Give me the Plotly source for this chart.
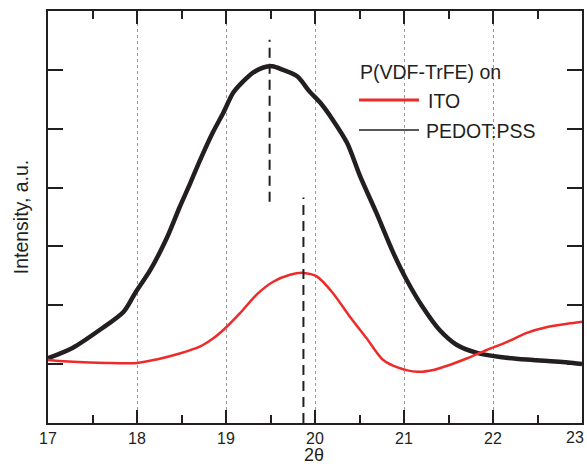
import plotly.graph_objects as go

# PEDOT:PSS substrate (black, noisy band in the original)
pedot_x = [17.0, 17.28, 17.58, 17.85, 17.98, 18.15, 18.34, 18.48, 18.60, 18.71,
           18.85, 18.97, 19.08, 19.19, 19.30, 19.42, 19.52, 19.64, 19.80, 19.94,
           20.06, 20.20, 20.36, 20.51, 20.69, 20.88, 21.03, 21.21, 21.40, 21.59,
           21.82, 22.08, 22.45, 22.90, 23.0]
pedot_y = [1.10, 1.28, 1.58, 1.89, 2.21, 2.60, 3.16, 3.67, 4.08, 4.47,
           4.93, 5.27, 5.61, 5.80, 5.95, 6.04, 6.06, 6.00, 5.89, 5.63,
           5.44, 5.15, 4.76, 4.18, 3.57, 2.89, 2.43, 1.97, 1.58, 1.33,
           1.19, 1.12, 1.07, 1.02, 1.00]

# ITO substrate (red)
ito_x = [17.0, 17.28, 17.66, 18.0, 18.22, 18.48, 18.71, 18.85, 18.97, 19.16,
         19.35, 19.53, 19.72, 19.87, 20.02, 20.20, 20.39, 20.58, 20.76, 20.92,
         21.15, 21.33, 21.52, 21.71, 21.93, 22.16, 22.38, 22.61, 22.90, 23.0]
ito_y = [1.07, 1.04, 1.02, 1.02, 1.08, 1.18, 1.30, 1.43, 1.58, 1.87,
         2.19, 2.40, 2.52, 2.55, 2.49, 2.21, 1.81, 1.44, 1.08, 0.95,
         0.87, 0.90, 0.99, 1.10, 1.24, 1.38, 1.53, 1.63, 1.70, 1.72]

# peak position markers (dashed)
peak_pedot_x = [19.49, 19.49]
peak_pedot_y = [3.76, 6.51]
peak_ito_x = [19.87, 19.87]
peak_ito_y = [0.0, 3.83]

x_ticks = [17, 18, 19, 20, 21, 22, 23]

FONT = "Liberation Sans, Arial, sans-serif"
RED = "#ee2a2a"
BLACK = "#231f20"

fig = go.Figure()
fig.add_trace(go.Scatter(x=pedot_x, y=pedot_y, mode="lines",
                         line=dict(color=BLACK, width=4.5, shape="spline", smoothing=0.8),
                         name="PEDOT:PSS"))
fig.add_trace(go.Scatter(x=ito_x, y=ito_y, mode="lines",
                         line=dict(color=RED, width=2.5, shape="spline", smoothing=0.8),
                         name="ITO"))
fig.add_trace(go.Scatter(x=peak_pedot_x, y=peak_pedot_y, mode="lines",
                         line=dict(color=BLACK, width=2, dash="10px,6px"), showlegend=False))
fig.add_trace(go.Scatter(x=peak_ito_x, y=peak_ito_y, mode="lines",
                         line=dict(color=BLACK, width=2, dash="10px,6px"), showlegend=False))


# hand-drawn legend (paper coords from pixel positions)
def px2paper(px, py):
    return (px - 48) / 534, (423 - py) / 412


x0, y0 = px2paper(359, 100)
x1, _ = px2paper(419, 100)
fig.add_shape(type="line", xref="paper", yref="paper", x0=x0, x1=x1, y0=y0, y1=y0,
              line=dict(color=RED, width=3))
_, y2 = px2paper(359, 130)
fig.add_shape(type="line", xref="paper", yref="paper", x0=x0, x1=x1, y0=y2, y1=y2,
              line=dict(color=BLACK, width=1.5))

for label, (px, py) in [("P(VDF-TrFE) on", (358, 72)),
                        ("ITO", (426, 101)),
                        ("PEDOT:PSS", (424, 131))]:
    tx, ty = px2paper(px, py)
    fig.add_annotation(text=label, xref="paper", yref="paper", x=tx, y=ty,
                       xanchor="left", yanchor="middle", showarrow=False,
                       font=dict(family=FONT, size=19.5, color=BLACK))

# last tick label sits squeezed against the right edge in the original
tx, ty = px2paper(586, 437)
fig.add_annotation(text=str(x_ticks[-1]), xref="paper", yref="paper", x=tx, y=ty,
                   xanchor="right", yanchor="middle", showarrow=False,
                   font=dict(family=FONT, size=16, color=BLACK))

# x-axis title, bottom of its box on the page edge
tx, ty = px2paper(314, 466)
fig.add_annotation(text="2θ", xref="paper", yref="paper", x=tx, y=ty,
                   xanchor="center", yanchor="bottom", showarrow=False,
                   borderpad=0, font=dict(family=FONT, size=18, color=BLACK))

fig.update_layout(
    width=587, height=466,
    margin=dict(l=48, r=5, t=11, b=43, autoexpand=False),
    paper_bgcolor="white", plot_bgcolor="white",
    showlegend=False,
    font=dict(family=FONT, size=16, color=BLACK),
)
fig.update_xaxes(
    range=[17, 23], tickvals=x_ticks,
    ticktext=[str(t) for t in x_ticks[:-1]] + [""],
    ticks="inside", ticklen=13, tickwidth=2, tickcolor=BLACK,
    minor=dict(dtick=0.5, ticks="inside", ticklen=8, tickwidth=2, tickcolor=BLACK, showgrid=False),
    showline=True, linecolor=BLACK, linewidth=2, mirror="ticks",
    showgrid=True, gridcolor="#999999", gridwidth=1, griddash="dot",
    zeroline=False, automargin=False,
    tickfont=dict(size=16),
)
fig.update_yaxes(
    range=[0, 7], tickvals=[1, 2, 3, 4, 5, 6], showticklabels=False,
    ticks="inside", ticklen=15, tickwidth=2, tickcolor=BLACK,
    showline=True, linecolor=BLACK, linewidth=2, mirror="ticks",
    showgrid=False, zeroline=False, automargin=False,
    title=dict(text="Intensity, a.u.", font=dict(size=19.5), standoff=12),
)

fig.write_html("out.html", config={"displayModeBar": False},
               post_script="document.body.style.margin='0px';")
